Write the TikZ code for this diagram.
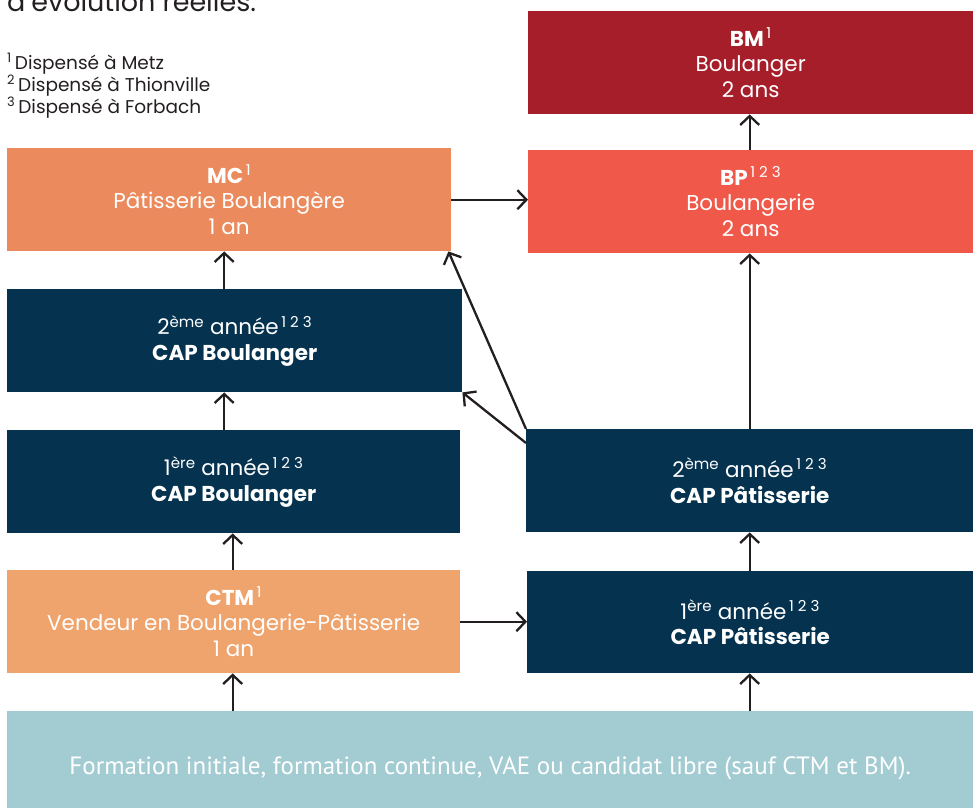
\documentclass[tikz,border=0pt]{standalone}
\usepackage{fontspec}
\setmainfont{Poppins}
\newfontfamily\basefont{PT Sans}
\usetikzlibrary{arrows.meta}
\definecolor{bmred}{HTML}{A61E2A}
\definecolor{bpred}{HTML}{F0594A}
\definecolor{mcorange}{HTML}{EB8B5D}
\definecolor{ctmorange}{HTML}{F0A46D}
\definecolor{capnavy}{HTML}{04324F}
\definecolor{baseteal}{HTML}{A2CBD2}
\definecolor{linegray}{HTML}{231F20}
\tikzset{
	box/.style={anchor=north west, inner sep=0pt, text=white, align=center,
		font=\fontsize{21.5}{25.5}\selectfont},
	arr/.style={draw=linegray, line width=2.3pt, -{Straight Barb[length=9pt,width=19pt,line width=2.3pt]}},
	note/.style={anchor=base west, inner sep=0pt, text=linegray, font=\fontsize{18.5}{22}\selectfont}
}
\newcommand{\sups}[1]{\textsuperscript{\,#1}}

\begin{document}
\begin{tikzpicture}[x=1pt,y=-1pt]
			%%%%% START %%%%%
			\useasboundingbox (0,0) rectangle (973,808);
			
			% header and footnotes
			\node[anchor=base west, inner sep=0pt, text=linegray, font=\fontsize{27}{31}\selectfont] (title) at (7,12) {d’évolution réelles.};
			\node[note] (fn1) at (7,69) {\textsuperscript{1}\,Dispensé à Metz};
			\node[note] (fn2) at (7,91) {\textsuperscript{2}\,Dispensé à Thionville};
			\node[note] (fn3) at (7,113) {\textsuperscript{3}\,Dispensé à Forbach};
			
			% right column
			\node[box, fill=bmred, minimum width=445pt, minimum height=103pt] (bm) at (528,11) {\textbf{BM}\sups{1}\\Boulanger\\2 ans};
			\node[box, fill=bpred, minimum width=445pt, minimum height=103pt] (bp) at (528,150) {\textbf{BP}\sups{1 2 3}\\Boulangerie\\2 ans};
			\node[box, fill=capnavy, minimum width=447pt, minimum height=103pt] (patb) at (526,429) {2\textsuperscript{ème} année\sups{1 2 3}\\\textbf{CAP Pâtisserie}};
			\node[box, fill=capnavy, minimum width=446pt, minimum height=102pt] (pata) at (527,571) {1\textsuperscript{ère} année\sups{1 2 3}\\\textbf{CAP Pâtisserie}};
			
			% left column
			\node[box, fill=mcorange, minimum width=444pt, minimum height=103pt] (mc) at (7,148) {\textbf{MC}\sups{1}\\Pâtisserie Boulangère\\1 an};
			\node[box, fill=capnavy, minimum width=455pt, minimum height=103pt] (boulb) at (7,289) {2\textsuperscript{ème} année\sups{1 2 3}\\\textbf{CAP Boulanger}};
			\node[box, fill=capnavy, minimum width=453pt, minimum height=103pt] (boula) at (7,430) {1\textsuperscript{ère} année\sups{1 2 3}\\\textbf{CAP Boulanger}};
			\node[box, fill=ctmorange, minimum width=453pt, minimum height=103pt] (ctm) at (7,570) {\textbf{CTM}\sups{1}\\Vendeur en Boulangerie-Pâtisserie\\1 an};
			
			% base band
			\node[box, fill=baseteal, minimum width=966pt, minimum height=97pt, font=\basefont\fontsize{25}{29}\selectfont] (base) at (7,711) {\raisebox{-6pt}[\height][0pt]{Formation initiale, formation continue, VAE ou candidat libre (sauf CTM et BM).}};
			
			% connectors
			\draw[arr] ([xshift=-1pt]bp.north) -- ([xshift=-1pt]bm.south);
			\draw[arr] ([xshift=-1pt]patb.north -| bp.south) -- ([xshift=-1pt]bp.south);
			\draw[arr] ([xshift=-1pt]pata.north -| bp.south) -- ([xshift=-1pt]patb.south -| bp.south);
			\draw[arr] ([xshift=-1pt]base.north -| bp.south) -- ([xshift=-1pt]pata.south -| bp.south);
			\draw[arr] (mc.east) -- (mc.east -| bp.west);
			\draw[arr] (ctm.east) -- (ctm.east -| pata.west);
			\draw[arr] ([xshift=-5pt]boulb.north -| mc.south) -- ([xshift=-5pt]mc.south);
			\draw[arr] ([xshift=-5pt]boula.north -| mc.south) -- ([xshift=-5pt]boulb.south -| mc.south);
			\draw[arr] ([xshift=-1pt]ctm.north) -- ([xshift=-1pt]boula.south -| ctm.north);
			\draw[arr] ([xshift=-1pt]base.north -| ctm.north) -- ([xshift=-1pt]ctm.south);
			\draw[arr] (patb.north west) -- ([xshift=-3pt]mc.south east);
			\draw[arr] ([yshift=-14pt]patb.north west) -- (boulb.south east);
			%%%%% END %%%%%
\end{tikzpicture}
\end{document}
